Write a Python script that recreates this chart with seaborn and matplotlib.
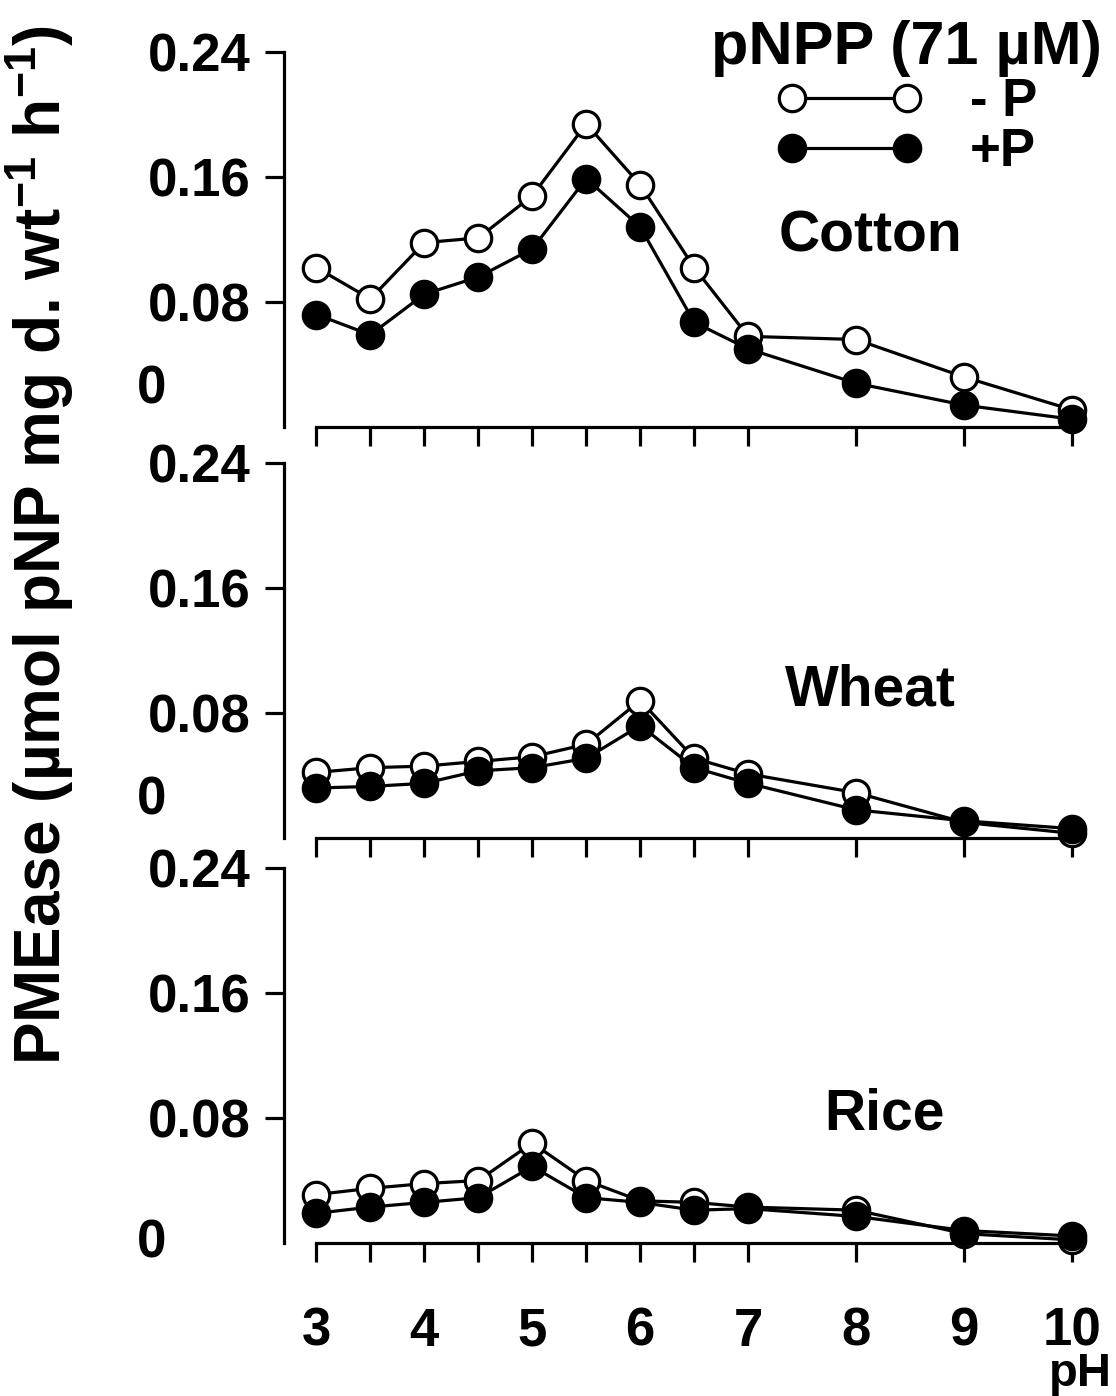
import pandas as pd
import seaborn as sns
import matplotlib.pyplot as plt
from matplotlib.lines import Line2D

ph = [3, 3.5, 4, 4.5, 5, 5.5, 6, 6.5, 7, 8, 9, 10]
crops = ["Cotton", "Wheat", "Rice"]

cotton_minus_p = [0.102, 0.082, 0.118, 0.121, 0.148, 0.194, 0.155, 0.102, 0.058, 0.056, 0.032, 0.011]
cotton_plus_p = [0.072, 0.059, 0.085, 0.096, 0.114, 0.159, 0.128, 0.067, 0.050, 0.028, 0.014, 0.005]
wheat_minus_p = [0.042, 0.045, 0.046, 0.049, 0.052, 0.060, 0.088, 0.051, 0.041, 0.029, 0.010, 0.003]
wheat_plus_p = [0.032, 0.033, 0.035, 0.043, 0.045, 0.051, 0.072, 0.045, 0.035, 0.018, 0.011, 0.006]
rice_minus_p = [0.031, 0.035, 0.038, 0.040, 0.064, 0.040, 0.027, 0.026, 0.023, 0.021, 0.006, 0.002]
rice_plus_p = [0.019, 0.023, 0.026, 0.029, 0.049, 0.029, 0.026, 0.021, 0.022, 0.017, 0.008, 0.0045]

x_ticks = [3, 3.5, 4, 4.5, 5, 5.5, 6, 6.5, 7, 8, 9, 10]
x_ticklabels = ["3", "", "4", "", "5", "", "6", "", "7", "8", "9", "10"]
y_ticks = [0.08, 0.16, 0.24]
y_ticklabels = ["0.08", "0.16", "0.24"]

series = {
    "Cotton": (cotton_minus_p, cotton_plus_p),
    "Wheat": (wheat_minus_p, wheat_plus_p),
    "Rice": (rice_minus_p, rice_plus_p),
}
rows = []
for crop, (minus, plus) in series.items():
    for p, a, b in zip(ph, minus, plus):
        rows.append({"crop": crop, "pH": p, "PMEase": a, "P": "- P"})
        rows.append({"crop": crop, "pH": p, "PMEase": b, "P": "+P"})
df = pd.DataFrame(rows)

sns.set_style("white")
plt.rcParams["font.family"] = ["Liberation Sans", "DejaVu Sans"]
plt.rcParams["font.weight"] = "bold"
plt.rcParams["text.color"] = "black"
plt.rcParams["xtick.color"] = "black"
plt.rcParams["ytick.color"] = "black"
plt.rcParams["mathtext.fontset"] = "custom"
plt.rcParams["mathtext.rm"] = "Liberation Sans:bold"
plt.rcParams["mathtext.it"] = "Liberation Sans:bold"
plt.rcParams["mathtext.bf"] = "Liberation Sans:bold"
plt.rcParams["mathtext.default"] = "regular"

W, H = 1116, 1396
fig = plt.figure(figsize=(W / 100, H / 100), dpi=100)

panels = [(52, 427), (463, 838), (868, 1243)]
zero_shift = [0.0237, 0.0237, 0.0]
label_pos = [(870, 237), (870, 690), (885, 1115)]
left_px, right_px = 284, 1099

lw = 2.3
ms = 19
axes = []
for i, crop in enumerate(crops):
    top, bot = panels[i]
    ax = fig.add_axes([left_px / W, 1 - bot / H, (right_px - left_px) / W, (bot - top) / H])
    axes.append(ax)
    sub = df[df["crop"] == crop]
    sns.lineplot(data=sub[sub["P"] == "- P"], x="pH", y="PMEase", ax=ax, color="black",
                 lw=lw, marker="o", markersize=ms, markerfacecolor="white",
                 markeredgecolor="black", markeredgewidth=lw, clip_on=False,
                 errorbar=None, legend=False)
    sns.lineplot(data=sub[sub["P"] == "+P"], x="pH", y="PMEase", ax=ax, color="black",
                 lw=lw, marker="o", markersize=ms, markerfacecolor="black",
                 markeredgecolor="black", markeredgewidth=lw, clip_on=False,
                 errorbar=None, legend=False)
    ax.set_xlim(2.70, 10.25)
    ax.set_ylim(0, 0.24)
    ax.set_xlabel("")
    ax.set_ylabel("")
    ax.set_yticks(y_ticks)
    ax.set_yticklabels(y_ticklabels)
    ax.set_xticks(x_ticks)
    if i == 2:
        ax.set_xticklabels(x_ticklabels)
    else:
        ax.set_xticklabels([])
    sns.despine(ax=ax)
    ax.spines["bottom"].set_bounds(3, 10)
    for s in ["left", "bottom"]:
        ax.spines[s].set_linewidth(lw)
        ax.spines[s].set_color("black")
    ax.tick_params(axis="y", direction="out", length=14, width=lw, pad=10,
                   labelsize=38, left=True, colors="black")
    ax.tick_params(axis="x", direction="out", length=14, width=lw, pad=32,
                   labelsize=38, bottom=True, colors="black")
    ax.text(-0.162, zero_shift[i], "0", transform=ax.get_yaxis_transform(),
            ha="center", va="center", fontsize=38, fontweight="bold")
    lx, ly = label_pos[i]
    fig.text(lx / W, 1 - ly / H, crop, ha="center", va="center",
             fontsize=41, fontweight="bold")

handles = [
    Line2D([0], [0], color="black", lw=lw, marker="o", ms=ms, mfc="white", mec="black", mew=lw),
    Line2D([0], [0], color="black", lw=lw, marker="o", ms=ms, mfc="black", mec="black", mew=lw),
]
leg = axes[0].legend(handles, ["- P", "+P"], title="pNPP (71 µM)", numpoints=2,
                     frameon=False, loc="upper right",
                     bbox_to_anchor=(1102 / W, 1 - 20 / H), bbox_transform=fig.transFigure,
                     prop={"size": 38, "weight": "bold"}, title_fontsize=44,
                     handlelength=2.78, handletextpad=0.9, labelspacing=0.0,
                     borderpad=0, borderaxespad=0)
leg.get_title().set_fontweight("bold")

fig.text(40 / W, 1 - 545 / H, "PMEase (µmol pNP mg d. wt$^{-1}$ h$^{-1}$)",
         rotation=90, ha="center", va="center", fontsize=46, fontweight="bold")
fig.text(1112 / W, 1 - 1386 / H, "pH", ha="right", va="baseline",
         fontsize=34, fontweight="bold")

fig.savefig("out.png", dpi=100)
